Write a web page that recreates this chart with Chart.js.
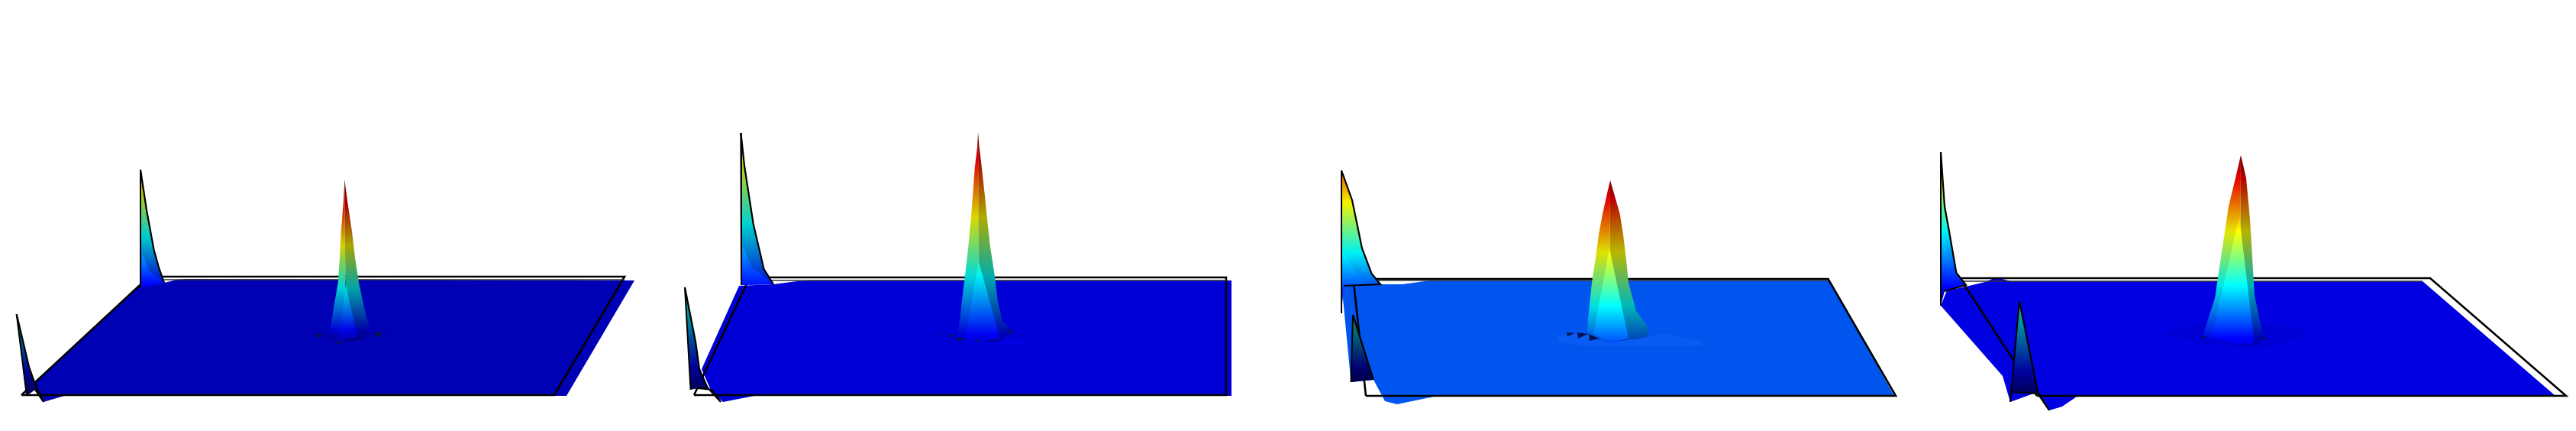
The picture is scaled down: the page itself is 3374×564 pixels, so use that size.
<!DOCTYPE html>
<html>
<head>
<meta charset="utf-8">
<style>html,body{margin:0;background:#fff}canvas{display:block}</style>
<script src="https://cdn.jsdelivr.net/npm/chart.js@4"></script>
</head>
<body>
<canvas id="surf" width="3374" height="564"></canvas>
<script>
// jet colour scale: level, r, g, b
const jetLevels = [0, 0.125, 0.375, 0.625, 0.875, 1];
const jetColors = [[0, 0, 0.5], [0, 0, 1], [0, 1, 1], [1, 1, 0], [1, 0, 0], [0.5, 0, 0]];

// panel 1
const outline1 = [[28,517],[726,517],[818,362],[195,362],[28,517]];
const floor1 = [[182,375],[215,370],[232,366],[244,365],[831,367],[742,518],[84,518],[57,526],[45,500]];
const back1 = [[214,366],[818,366]];
const spikeA1 = [[184,222],[192,275],[201.6,327],[208,350],[215,370],[184,377]];
const facetA1 = [[186,332],[196,355],[215,370],[184,377]];
const spikeB1 = [[21.7,411],[38,480],[45,500],[57,526],[46,510],[35,518]];
const peakL1 = [[451.3,235],[450,263],[446.7,303],[445,337],[442.7,370],[437,403],[432,433],[445,448],[453,447]];
const peakR1 = [[451.3,235],[455,263],[461,303],[465,337],[470,370],[477,403],[485,433],[470,445],[453,447]];
const peakI1 = [[453,373],[445,433],[443,447],[468,441]];
const specks1 = [[[413,438],[423,437],[417,442]],[[490,437],[500,433],[497,442]],[[437,447],[450,448],[443,450]]];
const ripple1 = [[401,437],[450,432],[512,435],[455,447]];

// panel 2
const outline2 = [[909,517],[1606,517],[1606,363],[982,363],[909,517]];
const floor2 = [[968,374],[1013,372],[1044,368],[1064,367],[1613,367],[1613,518],[988,518],[947,526],[932,513],[919,483]];
const back2 = [[1008,367],[1606,367]];
const spikeA2 = [[970.4,174],[975,217],[986.7,293],[1000.5,352],[1013,372],[971,373]];
const facetA2 = [[973,322],[985,350],[1013,372],[971,373]];
const spikeB2 = [[897,376],[911,447],[916,483],[926.5,507],[944,526],[932,510],[914,508],[904.6,510]];
const peakL2 = [[1281,173],[1280,193],[1276.7,220],[1274,257],[1271.7,287],[1268.3,323],[1264,360],[1260,393],[1255,437],[1255,445],[1282,448]];
const peakR2 = [[1281,173],[1282.7,193],[1286,220],[1290,257],[1293,287],[1297,323],[1302.7,360],[1306.7,393],[1313,420],[1325,432],[1310,447],[1282,448]];
const peakI2 = [[1281.7,342],[1263,447],[1282,448],[1310,443]];
const specks2 = [[[1242,438],[1250,437],[1242,442]],[[1253,441],[1265,444],[1254,446]],[[1228,437],[1235,436],[1229,438]],[[1280,443],[1282,448],[1278,448]],[[1323,430],[1326,437],[1322,437]]];
const ripple2 = [[1258,447],[1355,443],[1335,452],[1284,450]];

// panel 3
const outline3 = [[1789,518],[2483,518],[2394.5,365],[1772.5,365],[1789,518]];
const floor3 = [[1757,370],[1808,372],[1837,372],[1873,367],[2396,367],[2481,518],[1883,518],[1830,529],[1814,525],[1799,497],[1769.5,500]];
const back3 = [[1804,367],[2394,367]];
const spikeA3 = [[1757,223],[1771,262],[1784,325],[1796.5,358],[1808,372],[1760,374],[1757,410]];
const facetA3 = [[1757,325],[1775,355],[1790,372],[1757,372]];
const spikeB3 = [[1772,412],[1799,497],[1769.5,500]];
const peakL3 = [[2109,236],[2105,253],[2099,280],[2094,307],[2090,337],[2085,370],[2080,417],[2079,433],[2087,442],[2108,448]];
const peakR3 = [[2109,236],[2114,253],[2121.7,280],[2126,307],[2130,340],[2133,370],[2143,407],[2158,427],[2159,440],[2147,443],[2108,448]];
const peakI3 = [[2108,325],[2087,437],[2108,448],[2133,443]];
const specks3 = [[[2052,435],[2063,436],[2053,440]],[[2066,435],[2080,437],[2067,443]],[[2081,437],[2095,443],[2082,446]]];
const ripple3 = [[2040,440],[2060,437],[2080,437],[2108,448],[2160,440],[2180,437],[2230,447],[2230,452],[2140,452],[2073,452],[2040,447]];

// panel 4
const outline4 = [[2668,518],[3361,518],[3183,364],[2567,364],[2668,518]];
const floor4 = [[2575,375],[2600,369],[2614,363],[2634,368],[3173,368],[3347,518],[2762,519],[2723,517],[2701,532],[2684,537],[2669,513],[2633,526],[2623,492],[2542,400],[2550,380]];
const back4 = [[2567,368],[3173,368]];
const spikeA4 = [[2542,199],[2547,270],[2553,303],[2562.4,357],[2575,373],[2550,380],[2547,381],[2542,400]];
const facetA4 = [[2544,300],[2556,350],[2570,375],[2544,378]];
const spikeB4 = [[2645,394],[2659,463],[2669,513],[2684,537],[2669,515],[2636.6,513],[2633,526]];
const peakL4 = [[2935,203],[2928,233],[2919,270],[2914,303],[2908,343],[2901,390],[2885,440],[2900,448],[2934,452]];
const peakR4 = [[2935,203],[2942,233],[2947,287],[2950,337],[2953,387],[2965,443],[2953,453],[2934,452]];
const peakI4 = [[2933,283],[2897,440],[2925,450],[2953,452]];
const specks4 = [[[2884,438],[2890,442],[2884,443]],[[2964,440],[2968,445],[2962,445]]];
const ripple4 = [[2829,437],[2885,420],[2996,427],[3024,437],[2963,457],[2890,450]];

// colour ranges are y positions of level 1 and level 0
const panels = [
  { outline: outline1, floor: floor1, back: back1, floorColor: '#0000b4', spikeA: spikeA1, facetA: facetA1, spikeB: spikeB1,
    peak: [peakL1, peakR1, peakI1], specks: specks1, rangeA: [152, 404], rangeB: [263, 518], rangeP: [238, 460],
    shades: [0.82, 0.65, 0.9], shadeA: 0.8, shadeB: 0.6, ripple: ripple1, rippleColor: '#0000a6' },
  { outline: outline2, floor: floor2, back: back2, floorColor: '#0000d6', spikeA: spikeA2, facetA: facetA2, spikeB: spikeB2,
    peak: [peakL2, peakR2, peakI2], specks: specks2, rangeA: [78, 422], rangeB: [230, 516], rangeP: [170, 476],
    shades: [0.85, 0.68, 0.95], shadeA: 0.82, shadeB: 0.6, ripple: ripple2, rippleColor: '#0000e2' },
  { outline: outline3, floor: floor3, back: back3, floorColor: '#0055ee', spikeA: spikeA3, facetA: facetA3, spikeB: spikeB3,
    peak: [peakL3, peakR3, peakI3], specks: specks3, rangeA: [168, 428], rangeB: [311, 505], rangeP: [225, 505],
    shades: [0.88, 0.72, 1], shadeA: 0.95, shadeB: 0.45, ripple: ripple3, rippleColor: '#085cf3' },
  { outline: outline4, floor: floor4, back: back4, floorColor: '#0000e0', spikeA: spikeA4, facetA: facetA4, spikeB: spikeB4,
    peak: [peakL4, peakR4, peakI4], specks: specks4, rangeA: [120, 412], rangeB: [250, 520], rangeP: [198, 478],
    shades: [0.9, 0.7, 1], shadeA: 0.95, shadeB: 0.62, ripple: ripple4, rippleColor: '#0000d6' }
];

const toXY = pts => pts.map(p => ({ x: p[0], y: p[1] }));

function jetGradient(range, shade) {
  return ctx => {
    const chart = ctx.chart;
    // scales have no size until the first layout is done
    if (!chart.chartArea) return '#000';
    const y = chart.scales.y;
    const g = chart.ctx.createLinearGradient(0, y.getPixelForValue(range[0]), 0, y.getPixelForValue(range[1]));
    jetLevels.forEach((lev, i) => {
      const c = jetColors[i].map(v => Math.round(v * shade * 255));
      g.addColorStop(1 - lev, `rgb(${c[0]},${c[1]},${c[2]})`);
    });
    return g;
  };
}

const shape = (pts, color) => ({
  data: toXY(pts), showLine: true, fill: 'shape', backgroundColor: color,
  borderColor: 'rgba(0,0,0,0)', borderWidth: 0, pointRadius: 0
});
const stroke = (pts, width, color) => ({
  data: toXY(pts), showLine: true, fill: false, borderColor: color || '#000',
  borderWidth: width, pointRadius: 0, borderJoinStyle: 'miter'
});

const sets = [];
panels.forEach(p => {
  sets.push(shape(p.floor, p.floorColor));
  sets.push(stroke(p.outline, 2.6));
  sets.push(stroke(p.back, 1.6, '#333'));
  sets.push(shape(p.ripple, p.rippleColor));

  sets.push(shape(p.spikeA, jetGradient(p.rangeA, p.shadeA)));
  sets.push(shape(p.facetA, jetGradient(p.rangeA, 1)));
  sets.push(stroke(p.spikeA.slice(0, -1), 2.2));
  sets.push(stroke([p.spikeA[0], p.spikeA[p.spikeA.length - 1]], 2));

  sets.push(shape(p.spikeB, jetGradient(p.rangeB, p.shadeB)));
  sets.push(stroke(p.spikeB.slice(0, -1), 2.2));
  sets.push(stroke([p.spikeB[0], p.spikeB[p.spikeB.length - 1]], 2));

  sets.push(shape(p.peak[0], jetGradient(p.rangeP, p.shades[0])));
  sets.push(shape(p.peak[1], jetGradient(p.rangeP, p.shades[1])));
  sets.push(shape(p.peak[2], jetGradient(p.rangeP, p.shades[2])));
  p.specks.forEach(s => sets.push(shape(s, '#0a1450')));
});

new Chart(document.getElementById('surf'), {
  type: 'scatter',
  // first dataset is painted last, so the back-to-front list gets reversed
  data: { datasets: sets.reverse() },
  options: {
    responsive: false,
    animation: false,
    clip: false,
    layout: { padding: 0 },
    plugins: { legend: { display: false }, tooltip: { enabled: false } },
    scales: {
      x: { type: 'linear', min: 0, max: 3374, display: false },
      y: { type: 'linear', min: 0, max: 564, reverse: true, display: false }
    }
  }
});
</script>
</body>
</html>
